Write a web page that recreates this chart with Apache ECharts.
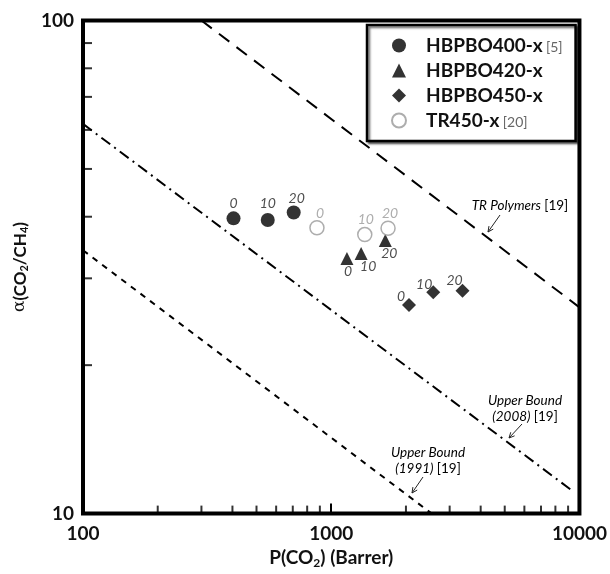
<!DOCTYPE html>
<html style="height: 100%">
<head>
<meta charset="utf-8">
<title>alpha vs P(CO2)</title>
<script src="https://cdn.jsdelivr.net/npm/echarts@6/dist/echarts.min.js"></script>
</head>
<body style="height: 100%; margin: 0; background: #fff">
<div id="main" style="width: 610px; height: 574px;"></div>
<script type="text/javascript">
// point data: [P(CO2), alpha]
var hb400 = [[404, 39.7], [555, 39.4], [706, 40.8]];
var hb420 = [[1157, 32.9], [1320, 33.7], [1652, 35.8]];
var hb450 = [[2057, 26.5], [2576, 28.1], [3380, 28.3]];
var tr450 = [[876, 38.0], [1365, 36.8], [1694, 37.9]];
var pointLabels = ['0', '10', '20'];

var seriesNames = ['HBPBO400-x', 'HBPBO420-x', 'HBPBO450-x', 'TR450-x'];
var seriesRefs = ['[5]', '', '', '[20]'];

// bound lines
var trLine = [[300, 100], [10000, 26.2]];
var ub2008 = [[100, 61.7], [9300, 11.15]];
var ub1991 = [[100, 34.2], [2540, 10]];

// minor ticks
var xMinor = [200, 300, 400, 500, 600, 700, 800, 900, 2000, 3000, 4000, 5000, 6000, 7000, 8000, 9000];
var yMinor = [20, 30, 40, 50, 60, 70, 80, 90];

var dom = document.getElementById("main");
var myChart = echarts.init(dom);
var FONT = 'Lato';

function labelled(arr, offsets, color) {
    return arr.map(function (d, i) {
        return {
            value: d,
            label: {
                show: true, formatter: pointLabels[i], position: 'inside',
                offset: offsets[i], fontStyle: 'italic', fontSize: 14,
                fontFamily: FONT, color: color
            }
        };
    });
}

function boundLine(data, dash, width) {
    return {
        type: 'line', data: data, symbol: 'none', silent: true, clip: true,
        lineStyle: {color: '#000', width: width, type: dash}, z: 1
    };
}

// minor ticks as thin rect symbols pushed inside the frame
function tickSeries(data, horiz) {
    return {
        type: 'scatter', data: data, silent: true, clip: false, z: 6,
        symbol: 'rect',
        symbolSize: horiz ? [9, 2] : [2, 8],
        symbolOffset: horiz ? [4.5, 0] : [0, -4],
        itemStyle: {color: '#000'}
    };
}

function arrow(x1, y1, x2, y2) {
    var a = Math.atan2(y2 - y1, x2 - x1), L = 6, w = 0.45;
    return [
        {type: 'line', shape: {x1: x1, y1: y1, x2: x2, y2: y2}, style: {stroke: '#222', lineWidth: 1}},
        {type: 'polyline', shape: {points: [
            [x2 - L * Math.cos(a - w), y2 - L * Math.sin(a - w)], [x2, y2],
            [x2 - L * Math.cos(a + w), y2 - L * Math.sin(a + w)]]},
            style: {stroke: '#222', lineWidth: 1, fill: null}}
    ];
}

var noteRich = {
    i: {fontStyle: 'italic', fontSize: 13.5, fontFamily: FONT, color: '#555', lineHeight: 16},
    n: {fontSize: 13.5, fontFamily: FONT, color: '#555', lineHeight: 16}
};

var graphics = [
    {type: 'text', x: 520, y: 206, style: {text: '{i|TR Polymers} {n|[19]}', rich: noteRich, align: 'center', verticalAlign: 'middle'}},
    {type: 'text', x: 525, y: 409, style: {text: '{i|Upper Bound}\n{i|(2008)} {n|[19]}', rich: noteRich, align: 'center', verticalAlign: 'middle'}},
    {type: 'text', x: 428, y: 461, style: {text: '{i|Upper Bound}\n{i|(1991)} {n|[19]}', rich: noteRich, align: 'center', verticalAlign: 'middle'}}
].concat(arrow(500, 215, 488, 232), arrow(522, 424, 509, 438), arrow(423, 477, 412, 493));

var xNameRich = {
    b: {fontSize: 19, fontWeight: 'bold', fontFamily: FONT, color: '#111'},
    s: {fontSize: 12, fontWeight: 'bold', fontFamily: FONT, color: '#111', padding: [10, 0, 0, 0]}
};
var yNameRich = {
    b: {fontSize: 17, fontWeight: 'bold', fontFamily: FONT, color: '#111'},
    a: {fontSize: 17, fontFamily: 'DejaVu Serif', color: '#111'},
    s: {fontSize: 11, fontWeight: 'bold', fontFamily: FONT, color: '#111', padding: [9, 0, 0, 0]}
};

var option = {
    animation: false,
    grid: {left: 83, right: 29, top: 20.5, bottom: 56, show: true, borderWidth: 4, borderColor: '#000'},
    legend: {
        data: seriesNames, orient: 'vertical', left: 367, top: 25,
        padding: [11, 13, 11, 24], itemGap: 6, itemWidth: 14, itemHeight: 14,
        backgroundColor: '#fff', borderColor: '#000', borderWidth: 2.5,
        shadowColor: 'rgba(0,0,0,0.55)', shadowBlur: 2, shadowOffsetX: 2, shadowOffsetY: 2,
        formatter: function (name) {
            var r = seriesRefs[seriesNames.indexOf(name)];
            return '{b|' + name + '}' + (r ? ' {r|' + r + '}' : '{r|}');
        },
        textStyle: {
            rich: {
                b: {fontSize: 19, fontWeight: 'bold', fontFamily: FONT, color: '#111', padding: [0, 0, 0, 15]},
                r: {fontSize: 14, fontFamily: FONT, color: '#666', padding: [4, 0, 0, 0], width: 26}
            }
        }
    },
    xAxis: {
        type: 'log', logBase: 10, min: 100, max: 10000,
        name: '{b|P(CO}{s|2}{b|) (Barrer)}', nameLocation: 'middle', nameGap: 29,
        nameTextStyle: {rich: xNameRich},
        axisLine: {show: false},
        axisTick: {inside: true, length: 10, lineStyle: {color: '#000', width: 2}},
        axisLabel: {
            fontSize: 19, fontWeight: 'bold', fontFamily: FONT, color: '#111', margin: 11,
            formatter: function (v) { return String(Math.round(v)); }
        },
        splitLine: {show: false}
    },
    yAxis: {
        type: 'log', logBase: 10, min: 10, max: 100,
        name: '{a|α}{b|(CO}{s|2}{b|/CH}{s|4}{b|)}', nameLocation: 'middle', nameGap: 52,
        nameTextStyle: {rich: yNameRich},
        axisLine: {show: false},
        axisTick: {show: false},
        axisLabel: {
            fontSize: 19, fontWeight: 'bold', fontFamily: FONT, color: '#111', margin: 9,
            formatter: function (v) { return String(Math.round(v)); }
        },
        splitLine: {show: false}
    },
    graphic: graphics,
    series: [
        boundLine(trLine, [13, 9], 2),
        boundLine(ub2008, [11, 5, 2, 5], 2),
        boundLine(ub1991, [6, 6], 2),
        {
            name: seriesNames[0], type: 'scatter', symbol: 'circle', symbolSize: 14, z: 3,
            itemStyle: {color: '#000'},
            data: labelled(hb400, [[0, -15], [0, -16], [3, -14]], '#222')
        },
        {
            name: seriesNames[1], type: 'scatter', symbol: 'triangle', symbolSize: 13, z: 3,
            itemStyle: {color: '#000'},
            data: labelled(hb420, [[1, 13], [7, 13], [4, 13]], '#222')
        },
        {
            name: seriesNames[2], type: 'scatter', symbol: 'diamond', symbolSize: 14, z: 3,
            itemStyle: {color: '#000'},
            data: labelled(hb450, [[-8, -8], [-9, -8], [-8, -10]], '#222')
        },
        {
            name: seriesNames[3], type: 'scatter', symbol: 'circle', symbolSize: 14, z: 3,
            itemStyle: {color: '#fff', borderColor: '#999', borderWidth: 1.5},
            data: labelled(tr450, [[3, -14], [1, -15], [2, -15]], '#999')
        },
        tickSeries(xMinor.map(function (v) { return [v, 10]; }), false),
        tickSeries(yMinor.map(function (v) { return [100, v]; }), true)
    ]
};
myChart.setOption(option, true);
</script>
</body>
</html>
